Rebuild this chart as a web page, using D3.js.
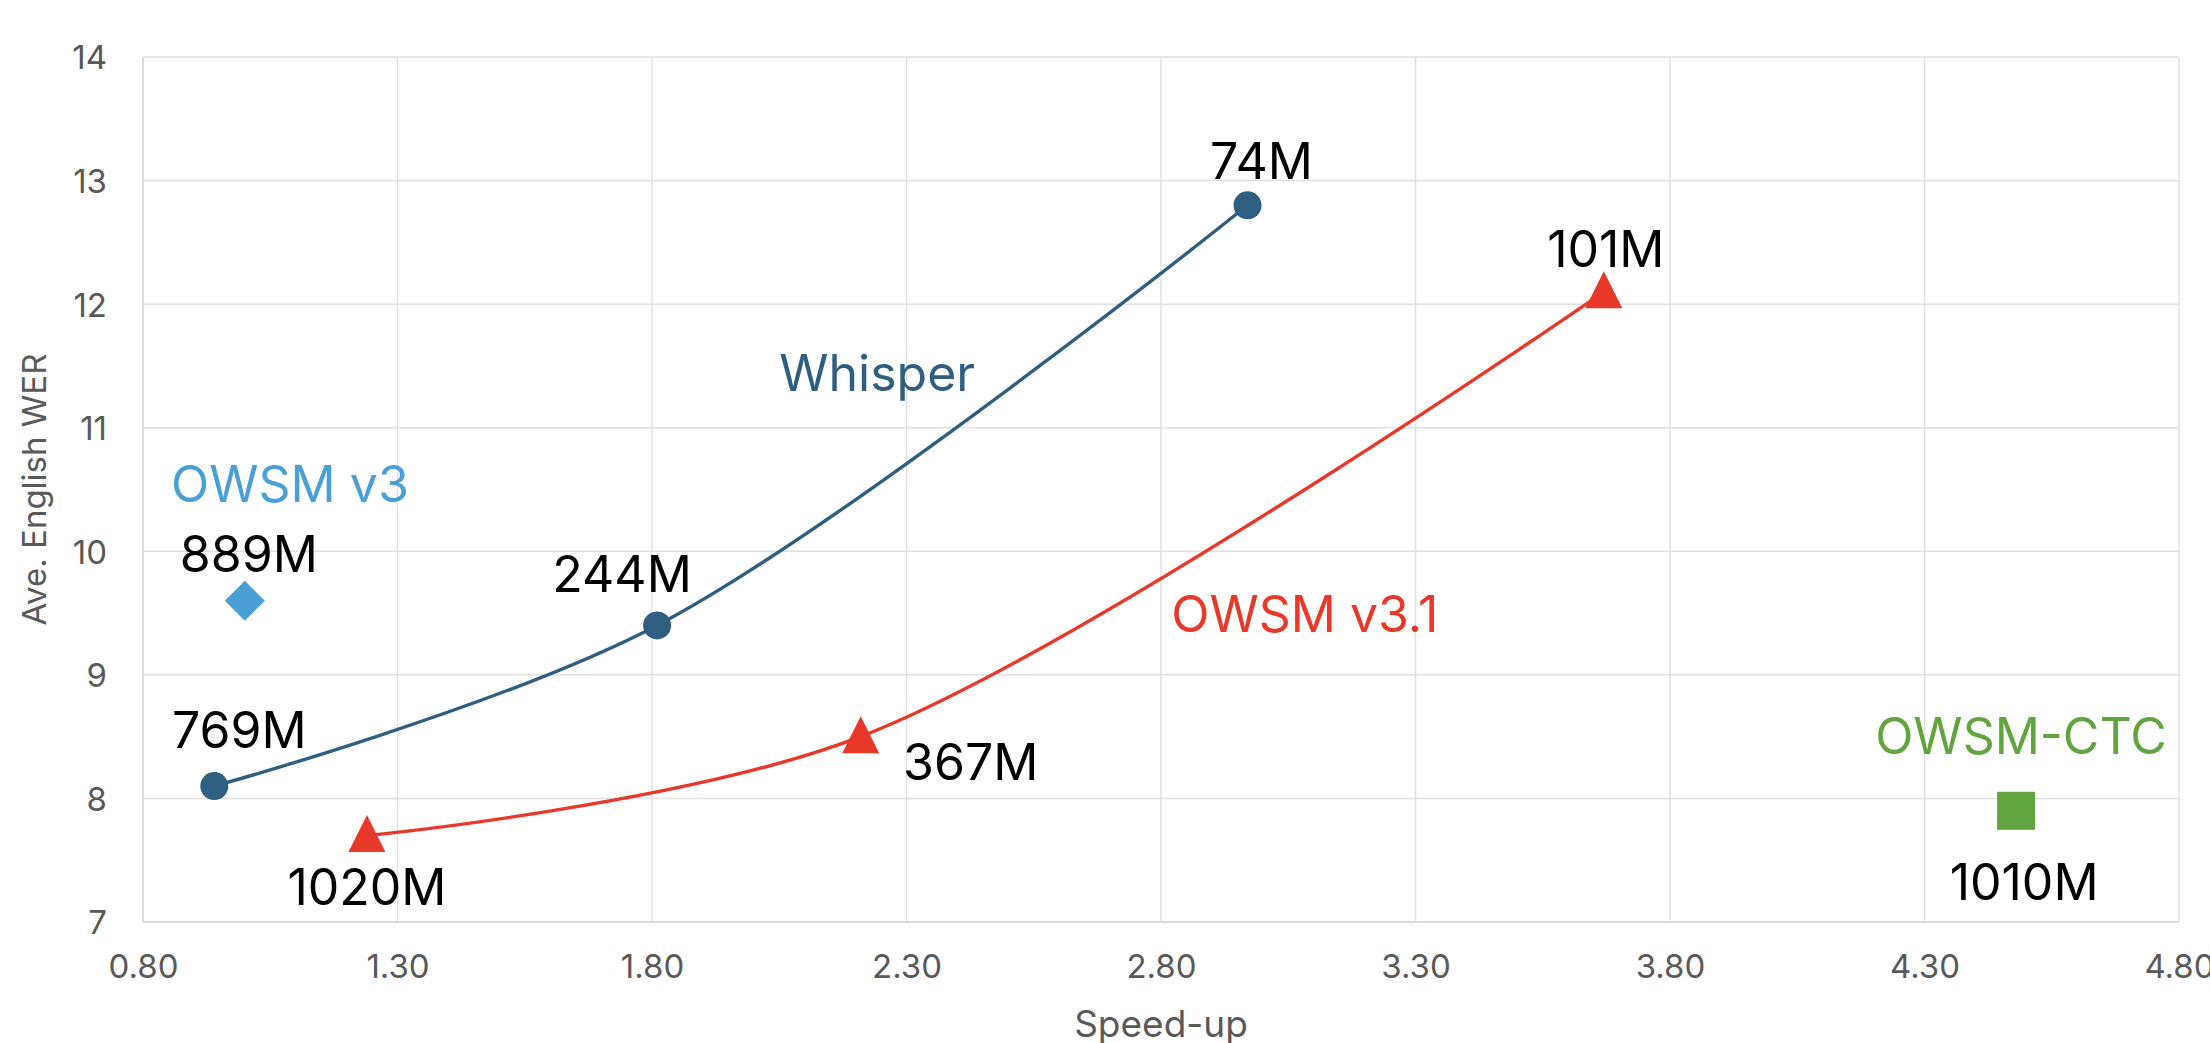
<!DOCTYPE html>
<html lang="en">
<head>
<meta charset="utf-8">
<title>Speed-up vs WER</title>
<script src="https://cdn.jsdelivr.net/npm/d3@7"></script>
<style>
  body { margin: 0; background: #fff; }
  text { font-family: Inter, "Noto Sans", sans-serif; }
</style>
</head>
<body>
<script>
// data
const whisperSpeed = [0.94, 1.81, 2.97];
const whisperWer   = [8.1, 9.4, 12.8];
const whisperSize  = ["769M", "244M", "74M"];

const v31Speed = [1.24, 2.21, 3.67];
const v31Wer   = [7.7, 8.5, 12.1];
const v31Size  = ["1020M", "367M", "101M"];

const v3Speed = [1.0];
const v3Wer   = [9.6];
const v3Size  = ["889M"];

const ctcSpeed = [4.48];
const ctcWer   = [7.9];
const ctcSize  = ["1010M"];

const xTicks = [0.8, 1.3, 1.8, 2.3, 2.8, 3.3, 3.8, 4.3, 4.8];
const yTicks = [7, 8, 9, 10, 11, 12, 13, 14];

// label offsets (px) from each marker
const labelOffset = {
  "769M": [25, -38], "244M": [-35, -33], "74M": [14, -26],
  "1020M": [0, 69], "367M": [110, 43], "101M": [2, -25],
  "889M": [4, -29], "1010M": [8, 89]
};

const w = 2210, h = 1043;
const m = {left: 143, right: 31, top: 57, bottom: 121};

const x = d3.scaleLinear().domain([0.8, 4.8]).range([m.left, w - m.right]);
const y = d3.scaleLinear().domain([7, 14]).range([h - m.bottom, m.top]);

const svg = d3.select("body").append("svg")
  .attr("width", w).attr("height", h);

// grid
svg.append("g").selectAll("line").data(yTicks).enter().append("line")
  .attr("x1", m.left).attr("x2", w - m.right)
  .attr("y1", d => y(d)).attr("y2", d => y(d))
  .style("stroke", d => d === 7 ? "#cfcfcf" : "#e0e0e0").style("stroke-width", 1.5);
svg.append("g").selectAll("line").data(xTicks).enter().append("line")
  .attr("y1", m.top).attr("y2", h - m.bottom)
  .attr("x1", d => x(d)).attr("x2", d => x(d))
  .style("stroke", d => d === 0.8 ? "#cfcfcf" : "#e0e0e0").style("stroke-width", 1.5);

// axes (labels only)
const xAxis = svg.append("g").attr("transform", `translate(0,${h - m.bottom})`)
  .call(d3.axisBottom(x).tickValues(xTicks).tickFormat(d3.format(".2f")).tickSize(0).tickPadding(33));
const yAxis = svg.append("g").attr("transform", `translate(${m.left},0)`)
  .call(d3.axisLeft(y).tickValues(yTicks).tickFormat(d3.format("d")).tickSize(0).tickPadding(36));
[xAxis, yAxis].forEach(a => {
  a.select(".domain").remove();
  a.selectAll("text").style("font-size", "33px").style("fill", "#595959")
    .style("font-family", "Inter, sans-serif");
});
yAxis.selectAll("text").attr("dy", "0.36em");

svg.append("text")
  .attr("x", (m.left + w - m.right) / 2).attr("y", 1037)
  .attr("text-anchor", "middle")
  .style("font-size", "37px").style("fill", "#595959")
  .text("Speed-up");
svg.append("text")
  .attr("transform", `translate(46,${(m.top + h - m.bottom) / 2}) rotate(-90)`)
  .attr("text-anchor", "middle")
  .style("font-size", "33px").style("fill", "#595959")
  .text("Ave. English WER");

// smoothed lines
const line = d3.line().x(d => x(d[0])).y(d => y(d[1])).curve(d3.curveCatmullRom.alpha(0.5));
const whisper = d3.zip(whisperSpeed, whisperWer, whisperSize);
const v31 = d3.zip(v31Speed, v31Wer, v31Size);
const v3 = d3.zip(v3Speed, v3Wer, v3Size);
const ctc = d3.zip(ctcSpeed, ctcWer, ctcSize);

svg.append("path").datum(whisper).attr("d", line)
  .style("fill", "none").style("stroke", "#2e5e80").style("stroke-width", 3.4);
svg.append("path").datum(v31).attr("d", line)
  .style("fill", "none").style("stroke", "#e8382a").style("stroke-width", 3.4);

// markers
svg.selectAll("circle.wh").data(whisper).enter().append("circle")
  .attr("cx", d => x(d[0])).attr("cy", d => y(d[1])).attr("r", 14)
  .style("fill", "#2e5e80");

const tri = (cx, cy, s) => `M${cx},${cy - s / 2}L${cx + s / 2},${cy + s / 2}L${cx - s / 2},${cy + s / 2}Z`;
svg.selectAll("path.tri").data(v31).enter().append("path")
  .attr("d", d => tri(x(d[0]), y(d[1]) - 2, 37))
  .style("fill", "#e8382a");

const diamond = (cx, cy, s) => `M${cx},${cy - s / 2}L${cx + s / 2},${cy}L${cx},${cy + s / 2}L${cx - s / 2},${cy}Z`;
svg.selectAll("path.dia").data(v3).enter().append("path")
  .attr("d", d => diamond(x(d[0]), y(d[1]), 40))
  .style("fill", "#4a9fd5");

svg.selectAll("rect.sq").data(ctc).enter().append("rect")
  .attr("x", d => x(d[0]) - 19).attr("y", d => y(d[1]) - 19)
  .attr("width", 38).attr("height", 38)
  .style("fill", "#62a540");

// size labels
svg.selectAll("text.size").data([...whisper, ...v31, ...v3, ...ctc]).enter().append("text")
  .attr("x", d => x(d[0]) + labelOffset[d[2]][0])
  .attr("y", d => y(d[1]) + labelOffset[d[2]][1])
  .attr("text-anchor", "middle")
  .style("font-size", "50px").style("fill", "#000")
  .text(d => d[2]);

// series names
const seriesNames = [
  {name: "Whisper", sx: 2.05, wy: 11.30, color: "#2e5e80"},
  {name: "OWSM v3", sx: 0.855, wy: 10.40, color: "#4a9fd5"},
  {name: "OWSM v3.1", sx: 2.82, wy: 9.35, color: "#e8382a"},
  {name: "OWSM-CTC", sx: 4.203, wy: 8.36, color: "#62a540"}
];
svg.selectAll("text.series").data(seriesNames).enter().append("text")
  .attr("x", d => x(d.sx)).attr("y", d => y(d.wy))
  .style("font-size", "50px").style("fill", d => d.color)
  .text(d => d.name);
</script>
</body>
</html>
